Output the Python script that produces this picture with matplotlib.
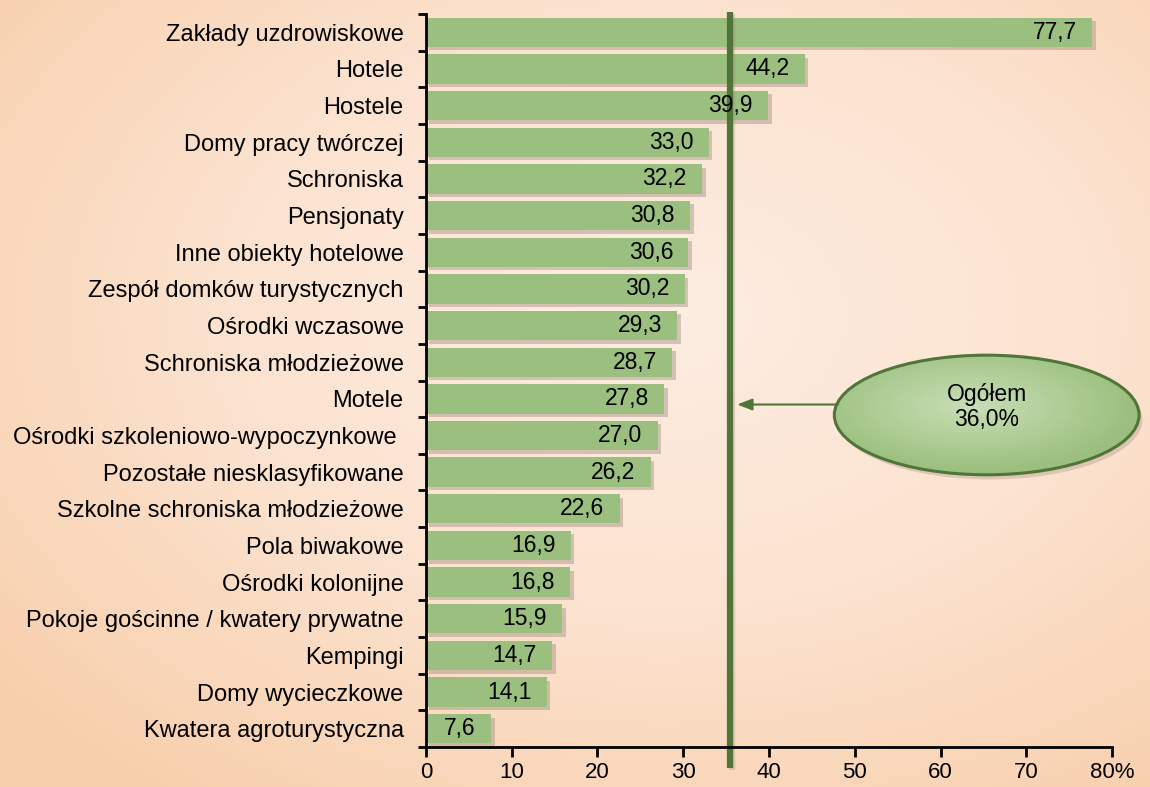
import matplotlib.pyplot as plt
import matplotlib.patheffects as pe
import numpy as np
from matplotlib.colors import LinearSegmentedColormap
from matplotlib.patches import Ellipse

plt.rcParams["font.family"] = ["Liberation Sans", "DejaVu Sans"]

categories = [
    "Zakłady uzdrowiskowe", "Hotele", "Hostele", "Domy pracy twórczej", "Schroniska",
    "Pensjonaty", "Inne obiekty hotelowe", "Zespół domków turystycznych", "Ośrodki wczasowe",
    "Schroniska młodzieżowe", "Motele", "Ośrodki szkoleniowo-wypoczynkowe ",
    "Pozostałe niesklasyfikowane", "Szkolne schroniska młodzieżowe", "Pola biwakowe",
    "Ośrodki kolonijne", "Pokoje gościnne / kwatery prywatne", "Kempingi",
    "Domy wycieczkowe", "Kwatera agroturystyczna",
]
values = [77.7, 44.2, 39.9, 33.0, 32.2, 30.8, 30.6, 30.2, 29.3, 28.7,
          27.8, 27.0, 26.2, 22.6, 16.9, 16.8, 15.9, 14.7, 14.1, 7.6]
x_ticks = [0, 10, 20, 30, 40, 50, 60, 70, 80]
x_tick_labels = ["0", "10", "20", "30", "40", "50", "60", "70", "80%"]
overall_label = "Ogółem\n36,0%"
overall_line_x = 35.4

BAR = "#9bbf7f"
DARK = "#4f7638"
SHADOW = "#9a8478"

fig = plt.figure(figsize=(11.5, 7.87), dpi=100)

# radial peach background
bg = fig.add_axes([0, 0, 1, 1], zorder=-10)
yy, xx = np.mgrid[0:1:300j, 0:1:400j]
r = np.sqrt(((xx - 0.58) / 0.8) ** 2 + ((yy - 0.6) / 0.8) ** 2)
bg_cmap = LinearSegmentedColormap.from_list("bg", ["#fdede2", "#fce3d0", "#f8cfac"])
bg.imshow(r, cmap=bg_cmap, vmin=0, vmax=0.95, aspect="auto", extent=[0, 1, 0, 1], origin="lower")
bg.axis("off")

ax = fig.add_axes([0.3704, 0.0508, 0.5966, 0.9314])
ax.patch.set_alpha(0)

y = np.arange(len(categories))
bars = ax.barh(y, values, height=0.8, color=BAR, zorder=3)
for b in bars:
    b.set_path_effects([pe.SimplePatchShadow(offset=(2.5, -2.5), shadow_rgbFace=SHADOW, alpha=0.4),
                        pe.Normal()])

for yi, v in zip(y, values):
    ax.annotate(f"{v:.1f}".replace(".", ","), xy=(v, yi), xytext=(-11, 0),
                textcoords="offset points", ha="right", va="center",
                fontsize=16.5, zorder=5)

ax.set_ylim(len(categories) - 0.5, -0.5)
ax.set_xlim(0, 80)
ax.set_yticks(y)
ax.set_yticklabels(categories, fontsize=17)
ax.set_yticks(np.arange(len(categories) + 1) - 0.5, minor=True)
ax.tick_params(axis="y", which="major", length=0, pad=16)
ax.tick_params(axis="y", which="minor", length=6, width=2, direction="out")
ax.set_xticks(x_ticks)
ax.set_xticklabels(x_tick_labels, fontsize=16)
ax.tick_params(axis="x", length=7, width=2, direction="out", pad=4)

for s in ["top", "right"]:
    ax.spines[s].set_visible(False)
for s in ["left", "bottom"]:
    ax.spines[s].set_linewidth(2)
    ax.spines[s].set_zorder(6)

# overall average line
ax.plot([overall_line_x, overall_line_x], [20.08, -0.55], color=DARK, lw=4.5,
        solid_capstyle="butt", clip_on=False, zorder=4,
        path_effects=[pe.SimpleLineShadow(offset=(1.5, -1.5), shadow_color=SHADOW, alpha=0.3),
                      pe.Normal()])

# ellipse with gradient fill
cx, cy, ew, eh = 0.858, 0.4727, 0.265, 0.152
shadow = Ellipse((cx + 0.003, cy - 0.006), ew, eh, transform=fig.transFigure,
                 facecolor=SHADOW, alpha=0.3, edgecolor="none", zorder=7)
fig.add_artist(shadow)
ell_ax = fig.add_axes([0, 0, 1, 1], zorder=8)
ell_ax.set_xlim(0, 1)
ell_ax.set_ylim(0, 1)
ell_ax.axis("off")
ell_ax.patch.set_alpha(0)
gy, gx = np.mgrid[-1:1:120j, -1:1:200j]
gr = np.sqrt((gx + 0.1) ** 2 + (gy - 0.15) ** 2)
ell_cmap = LinearSegmentedColormap.from_list("ell", ["#c8deb6", "#b2cf99", "#9bbf7f"])
img = ell_ax.imshow(gr, cmap=ell_cmap, vmin=0, vmax=1.1,
                    extent=[cx - ew / 2, cx + ew / 2, cy - eh / 2, cy + eh / 2],
                    aspect="auto", origin="lower")
ell = Ellipse((cx, cy), ew, eh, facecolor="none", edgecolor=DARK, lw=2.2)
ell_ax.add_patch(ell)
img.set_clip_path(ell)
ell_ax.text(cx, cy + 0.01, overall_label, ha="center", va="center", fontsize=16.5,
            linespacing=1.1)

# arrow from ellipse to line
ell_ax.annotate("", xy=(0.641, 0.486), xytext=(cx - ew / 2 + 0.003, 0.486),
                arrowprops=dict(arrowstyle="-|>,head_length=0.9,head_width=0.35",
                                color=DARK, lw=1.5, shrinkA=0, shrinkB=0))

fig.savefig("out.png", dpi=100)
